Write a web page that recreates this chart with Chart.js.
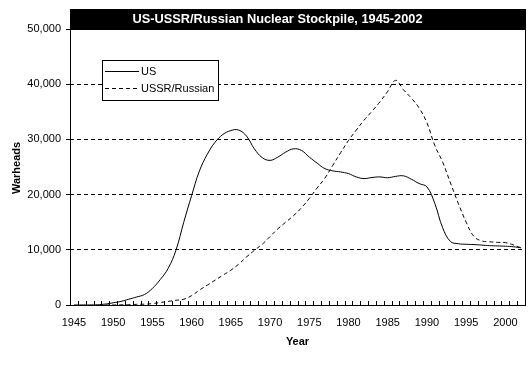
<!DOCTYPE html>
<html><head><meta charset="utf-8">
<script src="https://cdn.jsdelivr.net/npm/chart.js@4"></script>
<style>html,body{margin:0;padding:0;background:#fff;overflow:hidden;}</style>
</head><body>
<canvas id="c" width="530" height="374"></canvas>
<script>
const chartTitle = 'US-USSR/Russian Nuclear Stockpile, 1945-2002';
const xTitle = 'Year';
const yTitle = 'Warheads';
const seriesNames = ['US', 'USSR/Russian'];
const years = [1945,1946,1947,1948,1949,1950,1951,1952,1953,1954,1955,1956,1957,1958,1959,
  1960,1961,1962,1963,1964,1965,1966,1967,1968,1969,1970,1971,1972,1973,1974,1975,1976,1977,
  1978,1979,1980,1981,1982,1983,1984,1985,1986,1987,1988,1989,1990,1991,1992,1993,1994,1995,
  1996,1997,1998,1999,2000,2001,2002];
const usWarheads = [2,9,13,50,170,400,650,1050,1450,1900,3000,4600,6600,9900,15000,
  19800,24300,27300,29500,30900,31600,31700,30600,28300,26700,26200,26800,27700,28300,28000,
  26800,25700,24700,24300,24100,23800,23200,22900,23100,23200,23050,23300,23400,22800,22000,
  21400,18400,14000,11500,11100,11000,10950,10850,10750,10700,10650,10550,10350];
const ussrWarheads = [null,null,null,null,1,5,25,50,120,150,250,450,650,850,1050,
  1700,2700,3600,4500,5400,6300,7400,8700,9900,11000,12400,13800,15000,16200,17600,
  19300,21200,23000,25300,27600,29800,31700,33500,35100,36800,38700,40700,39000,37500,35700,
  33000,28900,25900,22100,18400,15000,12400,11600,11450,11350,11300,10900,10350];
const yTickValues = [0,10000,20000,30000,40000,50000];
const labeledYearStep = 5;

const FONT = '"Liberation Sans", Arial, sans-serif';

const decor = {
  id: 'decor',
  afterDraw(chart) {
    const ctx = chart.ctx;
    const a = chart.chartArea;
    const xs = chart.scales.x;
    ctx.save();
    const w = xs.getPixelForValue(1) - xs.getPixelForValue(0);
    ctx.strokeStyle = '#000';
    ctx.lineWidth = 1;
    ctx.beginPath();
    for (let i = 0; i <= years.length; i++) {
      const x = Math.round(xs.getPixelForValue(0) - w / 2 + i * w) + 0.5;
      ctx.moveTo(x, a.bottom);
      ctx.lineTo(x, a.bottom - 4);
    }
    ctx.stroke();
    ctx.strokeRect(Math.round(a.left) + 0.5, Math.round(a.top) + 0.5,
      Math.round(a.right - a.left), Math.round(a.bottom - a.top));
    ctx.fillStyle = '#000';
    ctx.fillRect(a.left, 9, a.right - a.left + 1, a.top - 9 + 1);
    ctx.fillStyle = '#fff';
    ctx.font = 'bold 12.8px ' + FONT;
    ctx.textAlign = 'center';
    ctx.textBaseline = 'middle';
    ctx.fillText(chartTitle, 277.5, 19.5);
    ctx.fillStyle = '#000';
    ctx.font = 'bold 11px ' + FONT;
    ctx.fillText(xTitle, (a.left + a.right) / 2, 342);
    ctx.save();
    ctx.translate(17, 168);
    ctx.rotate(-Math.PI / 2);
    ctx.fillText(yTitle, 0, 0);
    ctx.restore();
    const lx = 102, ly = 60, lw = 116, lh = 40;
    ctx.fillStyle = '#fff';
    ctx.fillRect(lx, ly, lw, lh);
    ctx.strokeStyle = '#000';
    ctx.strokeRect(lx + 0.5, ly + 0.5, lw, lh);
    const rows = [ly + 11.5, ly + 28.5];
    chart.data.datasets.forEach((ds, i) => {
      ctx.beginPath();
      ctx.setLineDash(ds.borderDash || []);
      ctx.moveTo(lx + 3, rows[i]);
      ctx.lineTo(lx + 37, rows[i]);
      ctx.stroke();
      ctx.setLineDash([]);
      ctx.fillStyle = '#000';
      ctx.font = '11px ' + FONT;
      ctx.textAlign = 'left';
      ctx.textBaseline = 'middle';
      ctx.fillText(ds.label, lx + 39, rows[i]);
    });
    ctx.restore();
  }
};

new Chart(document.getElementById('c'), {
  type: 'line',
  data: {
    labels: years.map(String),
    datasets: [
      { label: seriesNames[0], data: usWarheads, borderColor: '#000', borderWidth: 1,
        pointRadius: 0, tension: 0.4, fill: false },
      { label: seriesNames[1], data: ussrWarheads, borderColor: '#000', borderWidth: 1,
        borderDash: [4, 3], pointRadius: 0, tension: 0.4, fill: false }
    ]
  },
  options: {
    responsive: false,
    animation: false,
    devicePixelRatio: 1,
    layout: { padding: { top: 29, right: 5, left: 0, bottom: 0 } },
    plugins: { legend: { display: false }, title: { display: false }, tooltip: { enabled: false } },
    scales: {
      x: {
        type: 'category',
        offset: true,
        grid: { display: false, offset: true },
        border: { display: false },
        ticks: {
          autoSkip: false, maxRotation: 0, minRotation: 0, padding: 3,
          color: '#000', font: { family: FONT, size: 11 },
          callback: function(v, i) { return years[i] % labeledYearStep === 0 ? String(years[i]) : ''; }
        },
        afterFit(s) { s.height = 69; }
      },
      y: {
        min: yTickValues[0], max: yTickValues[yTickValues.length - 1],
        afterBuildTicks(s) { s.ticks = yTickValues.map(v => ({ value: v })); },
        grid: {
          color: (c) => (c.tick && (c.tick.value === yTickValues[0] || c.tick.value === yTickValues[yTickValues.length - 1])) ? 'rgba(0,0,0,0)' : '#000',
          tickColor: '#000', tickLength: 4, lineWidth: 1
        },
        border: { display: false, dash: [4, 3] },
        ticks: {
          padding: 5, color: '#000', font: { family: FONT, size: 11 },
          callback: (v) => Number(v).toLocaleString('en-US')
        },
        afterFit(s) { s.width = 70; }
      }
    }
  },
  plugins: [decor]
});
</script>
</body></html>
